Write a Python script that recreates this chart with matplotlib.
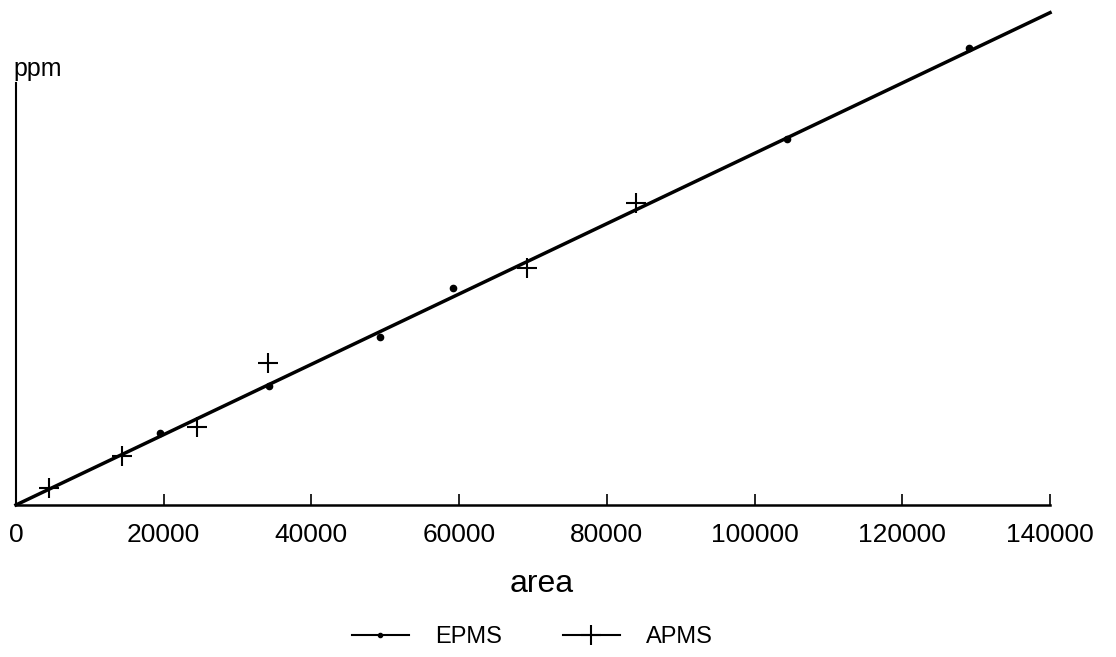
import matplotlib.pyplot as plt
from matplotlib.lines import Line2D

plt.rcParams['font.family'] = ['Liberation Sans', 'DejaVu Sans']

# calibration samples
epms_area = [19500, 34300, 49300, 59200, 104400, 129000]
epms_ppm = [2.05, 3.38, 4.78, 6.17, 10.4, 13.0]

apms_area = [4500, 14400, 24500, 34100, 69200, 84000]
apms_ppm = [0.48, 1.39, 2.22, 4.04, 6.74, 8.59]

# fitted calibration line
fit_area = [0, 140000]
fit_ppm = [0, 14.0]

xticks = [0, 20000, 40000, 60000, 80000, 100000, 120000, 140000]

fig = plt.figure(figsize=(11.16, 6.57), dpi=100)
ax = fig.add_axes([0.0143, 0.2314, 0.9266, 0.6423])

ax.plot(fit_area, fit_ppm, color='black', lw=2.5, clip_on=False, zorder=3)
ax.plot(epms_area, epms_ppm, ls='none', marker='o', ms=4.5, color='black',
        clip_on=False, zorder=4)
ax.plot(apms_area, apms_ppm, ls='none', marker='+', ms=14, mew=1.5,
        color='black', clip_on=False, zorder=4)

ax.set_xlim(0, 140000)
ax.set_ylim(0, 12)
ax.spines['top'].set_visible(False)
ax.spines['right'].set_visible(False)
ax.spines['left'].set_linewidth(1.5)
ax.spines['bottom'].set_linewidth(1.8)
ax.set_xticks(xticks)
ax.set_xticklabels([str(t) for t in xticks], fontsize=19)
ax.tick_params(axis='x', direction='in', length=8, width=1.2, pad=13)
ax.set_yticks([])

ax.set_xlabel('area', fontsize=23, labelpad=12)
ax.xaxis.set_label_coords(0.508, -0.152)
fig.text(0.034, 0.876, 'ppm', fontsize=18, ha='center', va='bottom')

handles = [
    Line2D([], [], color='black', lw=1.5, marker='o', ms=3),
    Line2D([], [], color='black', lw=1.5, marker='+', ms=14, mew=1.5),
]
fig.legend(handles, ['EPMS', 'APMS'], loc='center', bbox_to_anchor=(0.477, 0.03),
           ncol=2, frameon=False, fontsize=17, handlelength=2.4,
           columnspacing=2.6, handletextpad=1.1)

fig.savefig('out.png', dpi=100)
